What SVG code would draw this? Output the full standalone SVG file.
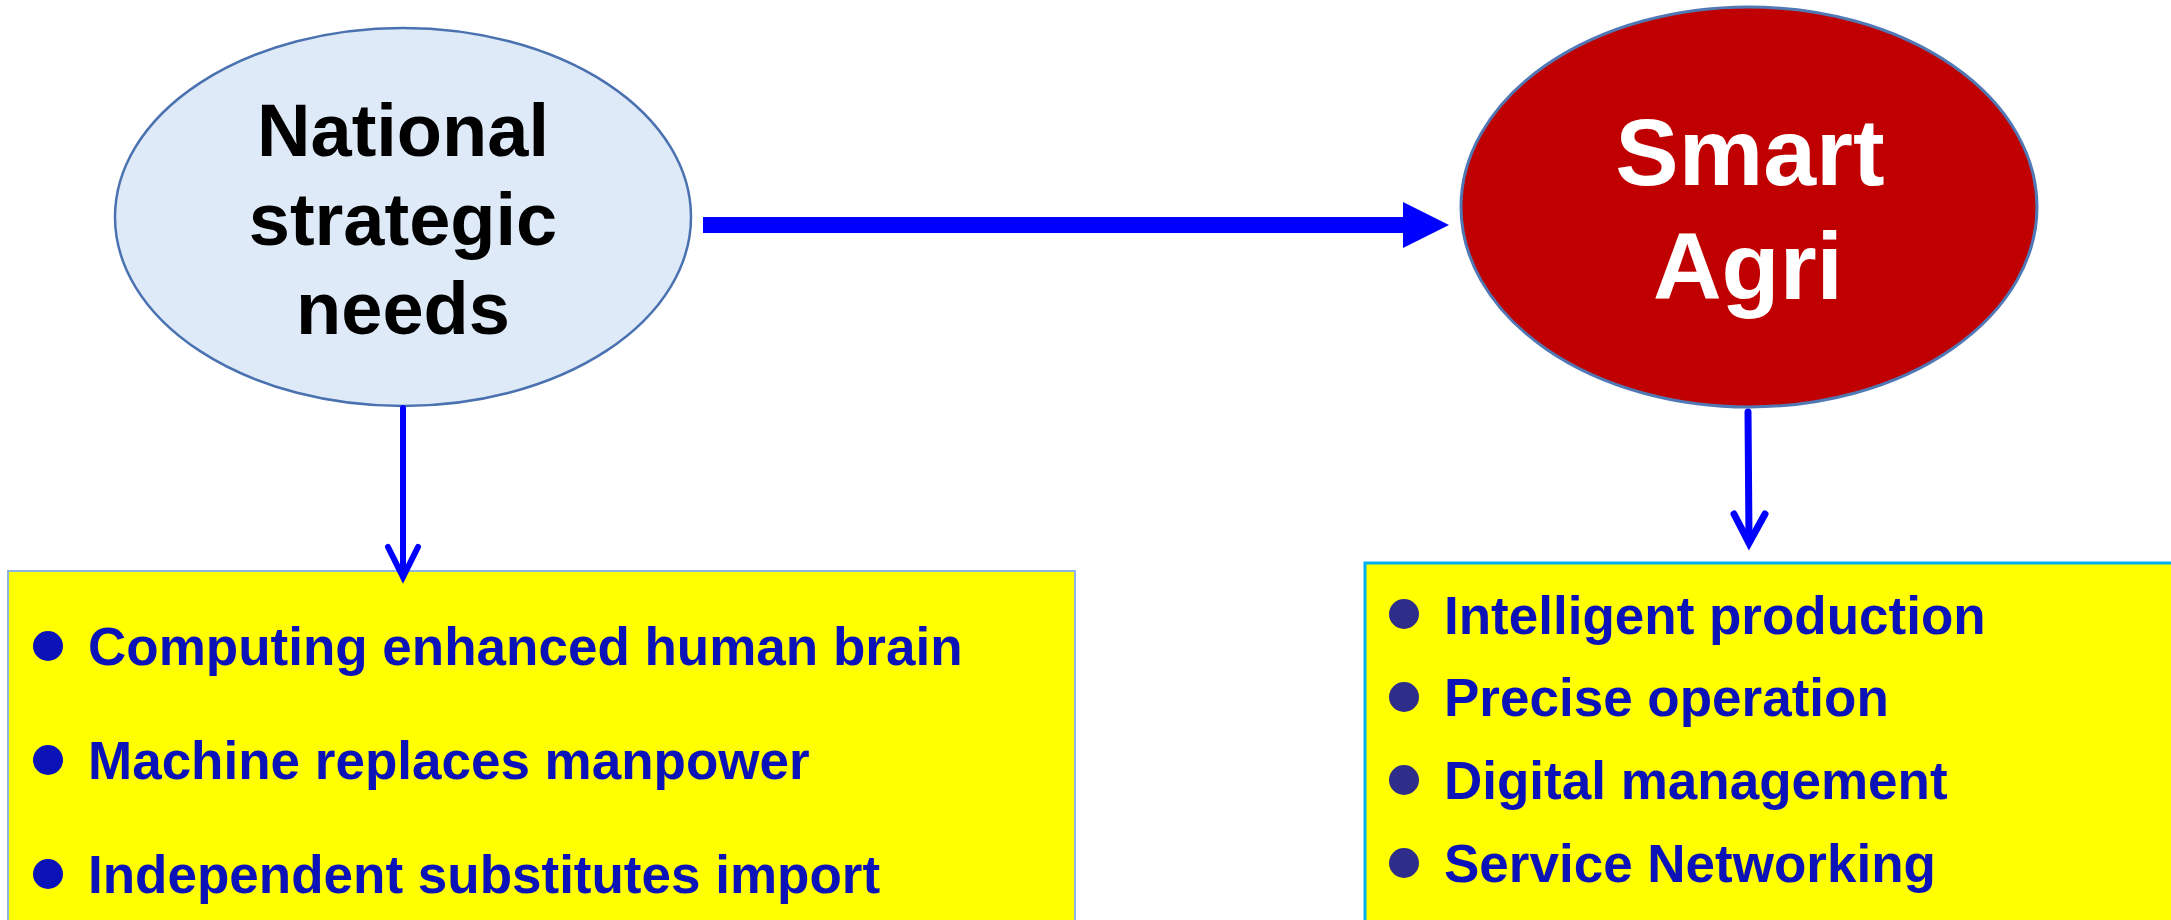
<svg xmlns="http://www.w3.org/2000/svg" width="2171" height="920" viewBox="0 0 2171 920">
<style>
.t{font-family:"Liberation Sans",Arial,sans-serif;font-weight:bold}
.el{font-size:74px;fill:#000;text-anchor:middle}
.er{font-size:95px;fill:#fff;text-anchor:middle}
.lb{font-size:53px;fill:#0A12B8}
.rb{font-size:53px;fill:#0A12B8}
.dl{fill:#0A12B8}
.dr{fill:#2E2E8A}
.conn{fill:none;stroke:#0000FF;stroke-linecap:round;stroke-linejoin:miter}
</style>
<rect width="2171" height="920" fill="#fff"/>
<g id="node-national">
<ellipse cx="403" cy="217" rx="288" ry="189" fill="#DEEAF8" stroke="#4A72B0" stroke-width="2.5"/>
<text class="t el" x="403" y="156">National</text>
<text class="t el" x="403" y="245">strategic</text>
<text class="t el" x="403" y="334">needs</text>
</g>
<g id="node-smart">
<ellipse cx="1749" cy="207" rx="288" ry="200" fill="#C00000" stroke="#4F78B5" stroke-width="3"/>
<text class="t er" x="1750" y="185">Smart</text>
<text class="t er" x="1748" y="299">Agri</text>
</g>
<g id="node-left-list">
<rect x="8" y="571" width="1067" height="400" fill="#FFFF00" stroke="#8EB4E3" stroke-width="2"/>
<circle class="dl" cx="48" cy="646" r="15"/>
<circle class="dl" cx="48" cy="760" r="15"/>
<circle class="dl" cx="48" cy="874" r="15"/>
<text class="t lb" x="88" y="665">Computing enhanced human brain</text>
<text class="t lb" x="88" y="779">Machine replaces manpower</text>
<text class="t lb" x="88" y="893">Independent substitutes import</text>
</g>
<g id="node-right-list">
<rect x="1365" y="563" width="860" height="400" fill="#FFFF00" stroke="#00B0F0" stroke-width="3"/>
<circle class="dr" cx="1404" cy="614" r="15"/>
<circle class="dr" cx="1404" cy="697" r="15"/>
<circle class="dr" cx="1404" cy="780" r="15"/>
<circle class="dr" cx="1404" cy="863" r="15"/>
<text class="t rb" x="1444" y="634">Intelligent production</text>
<text class="t rb" x="1444" y="716">Precise operation</text>
<text class="t rb" x="1444" y="799">Digital management</text>
<text class="t rb" x="1444" y="882">Service Networking</text>
</g>
<g id="connectors">
<polygon points="703,217 1403,217 1403,202 1449,225 1403,248 1403,233 703,233" fill="#0000FF"/>
<path class="conn" d="M403,408 L403,574" stroke-width="6"/>
<path class="conn" d="M388,547 L403,577 L418,547" stroke-width="6"/>
<path class="conn" d="M1748,412 L1749,540" stroke-width="7"/>
<path class="conn" d="M1734,514 L1749,543 L1765,514" stroke-width="7"/>
</g>
</svg>
